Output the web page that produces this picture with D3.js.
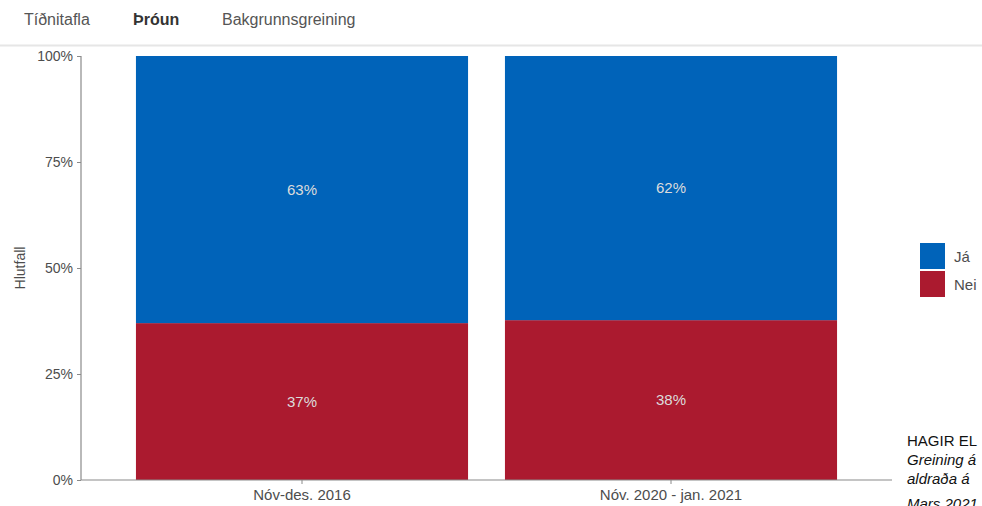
<!DOCTYPE html>
<html>
<head>
<meta charset="utf-8">
<script src="https://cdn.jsdelivr.net/npm/d3@7"></script>
<style>
  body { margin: 0; background: #fff; overflow: hidden; font-family: "Liberation Sans", Arial, sans-serif; }
  svg { display: block; }
</style>
</head>
<body>
<script>
const WIDTH = 982;
const HEIGHT = 506;

var tabs = ['Tíðnitafla', 'Þróun', 'Bakgrunnsgreining'];
var periods = ['Nóv-des. 2016', 'Nóv. 2020 - jan. 2021'];
var nei = [0.37, 0.377];
var ja = [0.63, 0.623];
var neiLabels = ['37%', '38%'];
var jaLabels = ['63%', '62%'];
var yTicks = [0, 0.25, 0.5, 0.75, 1];
var legendKeys = ['Já', 'Nei'];
var colors = { 'Já': '#0063b9', 'Nei': '#ab1a2f' };
var sideText = ['HAGIR EL', 'Greining á', 'aldraða á', 'Mars 2021'];

var svg = d3.select('body').append('svg')
    .attr('width', WIDTH)
    .attr('height', HEIGHT);

// tabs
var tabX = [24, 133, 222];
tabs.forEach(function(t, i) {
    svg.append('text')
        .attr('x', tabX[i])
        .attr('y', 25)
        .attr('font-size', 16)
        .attr('font-weight', i === 1 ? 'bold' : 'normal')
        .attr('fill', i === 1 ? '#333' : '#555')
        .text(t);
});
svg.append('line')
    .attr('x1', 0).attr('x2', WIDTH)
    .attr('y1', 45.5).attr('y2', 45.5)
    .attr('stroke', '#e6e6e6')
    .attr('stroke-width', 2);

var x = d3.scaleBand()
    .domain(periods)
    .range([80.6, 892.4])
    .paddingInner(0.1)
    .paddingOuter(0.15);

var y = d3.scaleLinear()
    .domain([0, 1])
    .range([480, 56]);

var rows = periods.map(function(p, i) {
    return { period: p, 'Nei': nei[i], 'Já': ja[i] };
});
var stack = d3.stack().keys(['Nei', 'Já'])(rows);
var labels = { 'Nei': neiLabels, 'Já': jaLabels };

var layers = svg.selectAll('g.layer')
    .data(stack)
    .enter()
    .append('g')
    .attr('class', 'layer')
    .attr('fill', function(d) { return colors[d.key]; });

layers.selectAll('rect')
    .data(function(d) { return d; })
    .enter()
    .append('rect')
    .attr('x', function(d) { return x(d.data.period); })
    .attr('width', x.bandwidth())
    .attr('y', function(d) { return y(Math.min(d[1], 1)); })
    .attr('height', function(d) { return y(d[0]) - y(Math.min(d[1], 1)); });

stack.forEach(function(layer) {
    layer.forEach(function(d, i) {
        svg.append('text')
            .attr('x', x(d.data.period) + x.bandwidth() / 2)
            .attr('y', y((d[0] + Math.min(d[1], 1)) / 2) + 5)
            .attr('text-anchor', 'middle')
            .attr('font-size', 15)
            .attr('fill', '#dcdcdc')
            .text(labels[layer.key][i]);
    });
});

// axes
var yAxis = svg.append('g')
    .attr('transform', 'translate(81,0)')
    .call(d3.axisLeft(y).tickValues(yTicks).tickFormat(d3.format('.0%')).tickSize(4).tickPadding(4));
var xAxis = svg.append('g')
    .attr('transform', 'translate(0,480)')
    .call(d3.axisBottom(x).tickSize(4).tickPadding(5));
[yAxis, xAxis].forEach(function(a) {
    a.select('.domain').attr('stroke', '#8a8a8a').attr('stroke-width', 1.2);
    a.selectAll('.tick line').attr('stroke', '#8a8a8a');
    a.selectAll('text').attr('fill', '#4d4d4d').attr('font-size', 14)
        .attr('font-family', '"Liberation Sans", Arial, sans-serif');
});
xAxis.selectAll('text').attr('font-size', 15);
yAxis.select('.domain').attr('d', 'M0,56V480');
xAxis.select('.domain').attr('d', 'M81,0H892');

svg.append('text')
    .attr('transform', 'translate(25,268) rotate(-90)')
    .attr('text-anchor', 'middle')
    .attr('font-size', 14)
    .attr('fill', '#4d4d4d')
    .text('Hlutfall');

// legend
legendKeys.forEach(function(k, i) {
    svg.append('rect')
        .attr('x', 920).attr('y', 243 + i * 28)
        .attr('width', 25).attr('height', 26)
        .attr('fill', colors[k]);
    svg.append('text')
        .attr('x', 954).attr('y', 262 + i * 28)
        .attr('font-size', 15)
        .attr('fill', '#4d4d4d')
        .text(k);
});

// side caption (runs past the window edge, as in the source page)
sideText.forEach(function(t, i) {
    svg.append('text')
        .attr('x', 907)
        .attr('y', [446, 465, 484, 509][i])
        .attr('font-size', 15)
        .attr('font-style', i === 0 ? 'normal' : 'italic')
        .attr('fill', '#111')
        .text(t);
});
</script>
</body>
</html>
